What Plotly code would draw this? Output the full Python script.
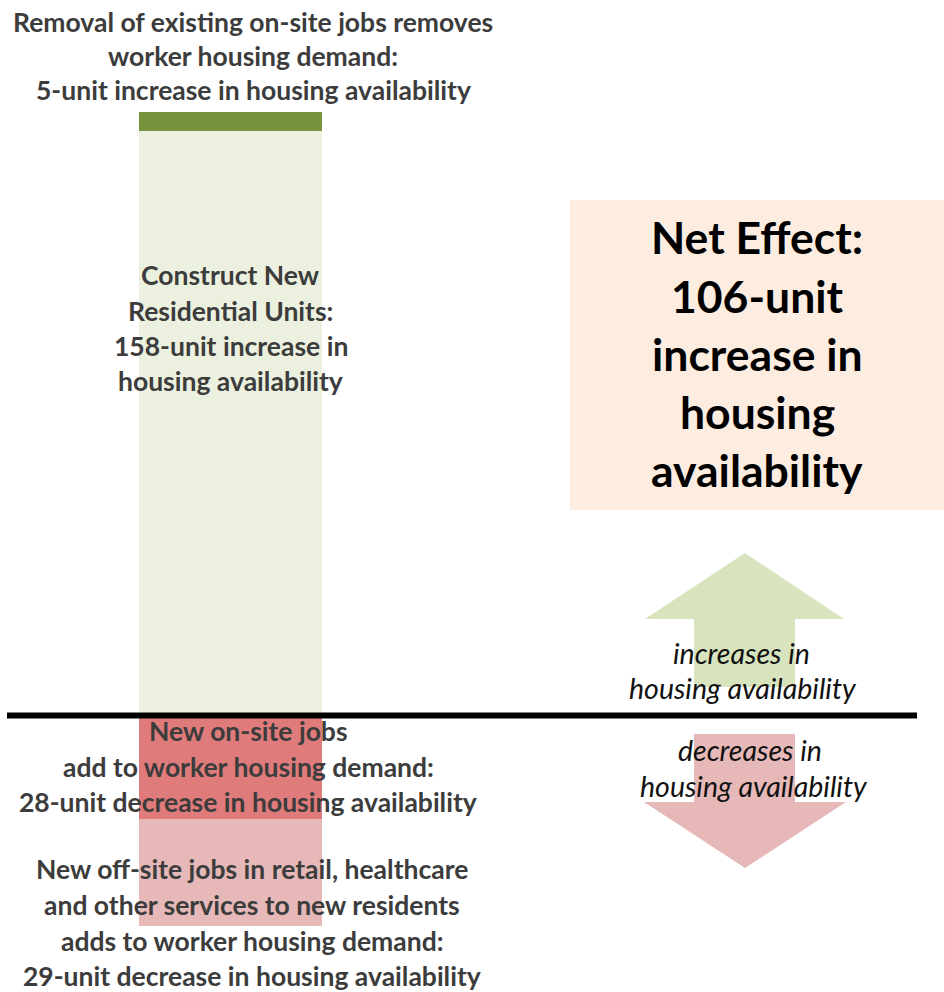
import plotly.graph_objects as go

# Housing availability components (units)
components = ["Construct New Residential Units", "Removal of existing on-site jobs",
              "New on-site jobs", "New off-site jobs"]
unit_changes = [158, 5, -28, -29]
bar_colors = ["#EBF1DE", "#77933C", "#E07B7B", "#E6B9B8"]
net_effect = sum(unit_changes)

W, H = 944, 992
BASE_PX = 715.5          # pixel row of the zero line
PX_PER_UNIT = 3.70
BAR_CENTER, BAR_WIDTH = 230.5, 183

y_top = BASE_PX / PX_PER_UNIT
y_bottom = -(H - BASE_PX) / PX_PER_UNIT


def py(pixel_row):
    """Pixel row (top-down) to paper y (bottom-up)."""
    return 1 - pixel_row / H


fig = go.Figure()
for name, val, col in zip(components, unit_changes, bar_colors):
    fig.add_trace(go.Bar(
        x=[BAR_CENTER], y=[val], width=[BAR_WIDTH], name=name,
        marker=dict(color=col, line=dict(width=0)),
        hoverinfo="name+y", showlegend=False,
    ))

GRAY = "#3C3C3C"
FONT = "Lato"

# Text blocks: (lines, center x, first-line pixel row, line step)
blocks = [
    (["Removal of existing on-site jobs removes",
      "worker housing demand:",
      f"{unit_changes[1]}-unit increase in housing availability"], 253, 22, 34),
    (["Construct New",
      "Residential Units:",
      f"{unit_changes[0]}-unit increase in",
      "housing availability"], 230.5, 275, 35.5),
    (["New on-site jobs",
      "add to worker housing demand:",
      f"{-unit_changes[2]}-unit decrease in housing availability"], 248, 731, 35.5),
    (["New off-site jobs in retail, healthcare",
      "and other services to new residents",
      "adds to worker housing demand:",
      f"{-unit_changes[3]}-unit decrease in housing availability"], 252, 869, 35.8),
]

annotations = []
for lines, cx, y0, step in blocks:
    for i, line in enumerate(lines):
        annotations.append(dict(
            x=cx, y=py(y0 + i * step), xref="x", yref="paper",
            text=f"<b>{line}</b>", showarrow=False,
            font=dict(family=FONT, size=26.5, color=GRAY),
            xanchor="center", yanchor="middle",
        ))

# Net effect box text
net_lines = ["Net Effect:", f"{net_effect}-unit", "increase in", "housing", "availability"]
for i, line in enumerate(net_lines):
    annotations.append(dict(
        x=757, y=py(237 + i * 58.2), xref="x", yref="paper",
        text=f"<b>{line}</b>", showarrow=False,
        font=dict(family=FONT, size=44.5, color="#000000"),
        xanchor="center", yanchor="middle",
    ))

# Arrow captions
captions = [
    ("increases in", 741, 653), ("housing availability", 743, 688),
    ("decreases in", 750, 750), ("housing availability", 754, 786),
]
for text, cx, row in captions:
    annotations.append(dict(
        x=cx, y=py(row), xref="x", yref="paper",
        text=f"<i>{text}</i>", showarrow=False,
        font=dict(family=FONT, size=28.5, color="#111111"),
        xanchor="center", yanchor="middle",
    ))


def poly(points):
    return "M " + " L ".join(f"{x},{py(r)}" for x, r in points) + " Z"


up_arrow = [(745, 553), (844, 619), (795, 619), (795, 687), (694, 687),
            (694, 619), (645, 619)]
down_arrow = [(694, 734), (795, 734), (795, 802), (846, 802), (745, 868),
              (644, 802), (694, 802)]

shapes = [
    dict(type="rect", xref="x", yref="paper", x0=570, x1=944,
         y0=py(510), y1=py(200), fillcolor="#FDEDE1", line=dict(width=0),
         layer="below"),
    dict(type="path", xref="x", yref="paper", path=poly(up_arrow),
         fillcolor="#D7E4BD", line=dict(width=0), layer="below"),
    dict(type="path", xref="x", yref="paper", path=poly(down_arrow),
         fillcolor="#E6B9B8", line=dict(width=0), layer="below"),
    dict(type="line", xref="x", yref="y", x0=7, x1=917, y0=0, y1=0,
         line=dict(color="#000000", width=6), layer="above"),
]

fig.update_layout(
    width=W, height=H, margin=dict(l=0, r=0, t=0, b=0),
    paper_bgcolor="white", plot_bgcolor="white",
    barmode="relative", bargap=0,
    xaxis=dict(range=[0, W], visible=False, fixedrange=True),
    yaxis=dict(range=[y_bottom, y_top], visible=False, fixedrange=True),
    shapes=shapes, annotations=annotations,
    font=dict(family=FONT),
)

fig.write_html("out.html")
